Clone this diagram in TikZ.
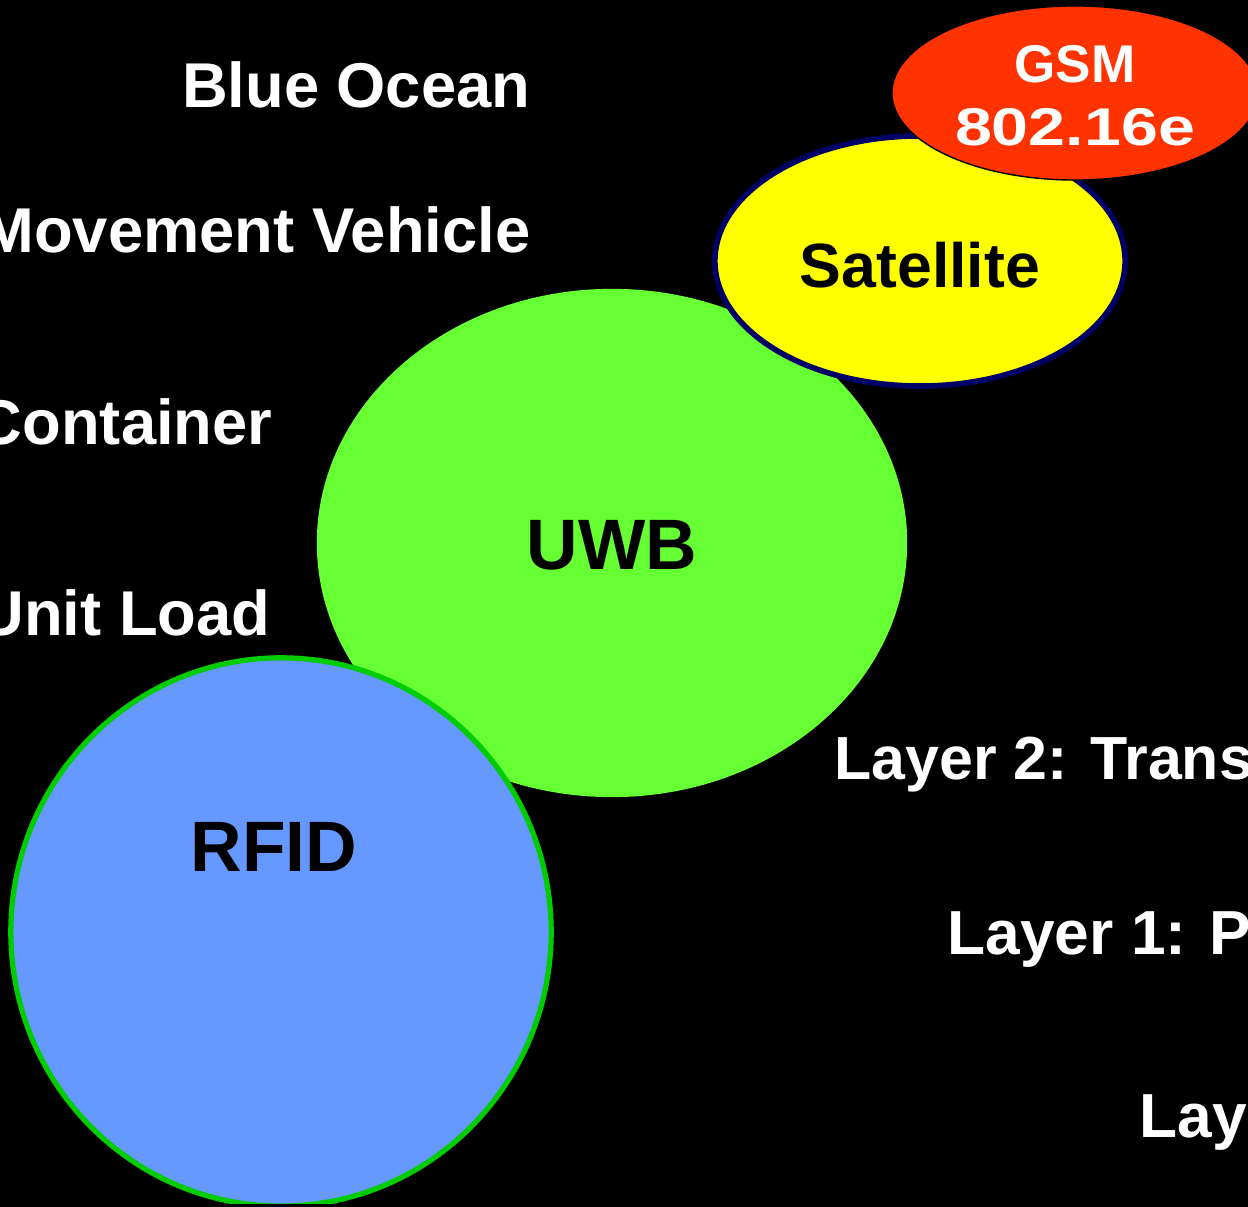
\documentclass[tikz,border=0pt]{standalone}
\usepackage{fontspec}
\setmainfont{Liberation Sans}
\usetikzlibrary{positioning}
\definecolor{gsmred}{HTML}{FF3300}
\definecolor{satyellow}{HTML}{FFFF00}
\definecolor{satnavy}{HTML}{000066}
\definecolor{uwbgreen}{HTML}{66FF33}
\definecolor{rfidblue}{HTML}{6699FF}
\definecolor{rfidrim}{HTML}{00CC00}
\definecolor{baseline}{HTML}{CC0000}
\tikzset{
  label/.style={text=white, font=\bfseries\fontsize{18}{20}\selectfont, inner sep=0pt},
  layerlabel/.style={text=white, font=\bfseries\fontsize{17.3}{20}\selectfont, inner sep=0pt, anchor=base west},
  tech/.style={text=black, font=\bfseries\fontsize{20.3}{24}\selectfont, inner sep=0pt},
}
\begin{document}
\begin{tikzpicture}[x=0.01cm, y=-0.01cm]
  \fill[black] (0,0) rectangle (1248,1207);
  \useasboundingbox (0,0) rectangle (1248,1207);
  \clip (0,0) rectangle (1248,1207);

  % technology bubbles, back to front
  \fill[uwbgreen] (612,543) ellipse [x radius=2.95cm, y radius=2.54cm];
  \filldraw[fill=satyellow, draw=satnavy, line width=1.6pt]
    (920,261) ellipse [x radius=2.05cm, y radius=1.25cm];
  \filldraw[fill=gsmred, draw=black, line width=0.4pt]
    (1075,93) ellipse [x radius=1.83cm, y radius=0.87cm];
  \filldraw[fill=rfidblue, draw=rfidrim, line width=1.5pt]
    (281,932) ellipse [x radius=2.70cm, y radius=2.74cm];

  % bubble captions
  \node[tech] (uwb) at (612,545) {UWB};
  \node[tech] (rfid) at (274,847) {RFID};
  \node[tech, font=\bfseries\fontsize{17.8}{20}\selectfont] (sat) at (920,265) {Satellite};
  \node[text=white, font=\bfseries\fontsize{15.1}{18}\selectfont, inner sep=0pt, anchor=base]
    (gsm) at (1075,83) {GSM};
  \node[text=white, font=\bfseries\fontsize{15.1}{18}\selectfont, inner sep=0pt, anchor=base]
    (wimax) at (1075,146) {\scalebox{1.25}[1]{802.16e}};

  % object levels
  \node[label, anchor=base east] (ocean) at (531,108) {Blue Ocean};
  \node[label, anchor=base east] (vehicle) at (531,253) {Movement Vehicle};
  \node[label, anchor=base east] (container) at (273,445) {Container};
  \node[label, anchor=base east] (unitload) at (271,636) {Unit Load};

  % network layers
  \node[layerlabel] (layer2) at (834,780) {Layer 2: Transport};
  \node[layerlabel, font=\bfseries\fontsize{17.7}{20}\selectfont] (layer1) at (947,955) {Layer 1: Physical};
  \node[layerlabel, font=\bfseries\fontsize{17.7}{20}\selectfont] (layer0) at (1139,1138) {Layer 0};

  % bottom rule
  \fill[baseline] (0,1204) rectangle (1248,1207);
\end{tikzpicture}
\end{document}
